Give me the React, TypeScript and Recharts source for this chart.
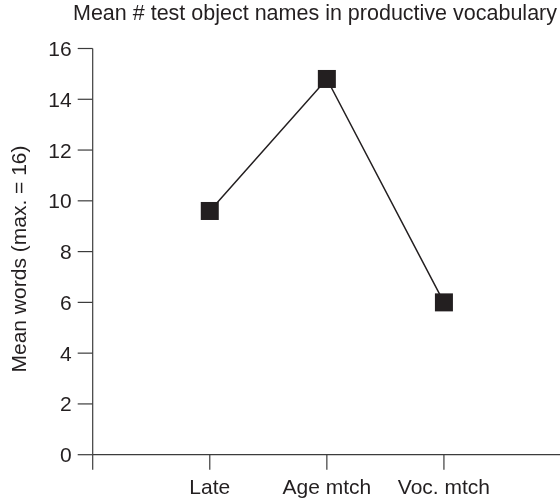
import React from 'react';
import { LineChart, Line, XAxis, YAxis } from 'recharts';

// groups along the x axis and their mean number of words
const groups = ['Late', 'Age mtch', 'Voc. mtch'];
const meanWords = [9.6, 14.8, 6.0];
const yTicks = [0, 2, 4, 6, 8, 10, 12, 14, 16];
const xTicks = [0, 1, 2, 3];

const data = groups.map((g, i) => ({ pos: i + 1, group: g, words: meanWords[i] }));

const INK = '#231f20';
const AXIS = '#3c3c3c';
const FONT = '"Liberation Sans", Arial, Helvetica, sans-serif';
const FS = 21;

const xLabel = (v: number) => (v >= 1 && v <= groups.length ? groups[v - 1] : '');

const squareDot = (props: any) => {
  const { cx, cy, index } = props;
  if (cx == null || cy == null) return <g key={`d-${index}`} />;
  return <rect key={`d-${index}`} x={cx - 9} y={cy - 9} width={18} height={18} fill={INK} />;
};

const yTitle = () => (
  <text
    transform="translate(26,259) rotate(-90)"
    textAnchor="middle"
    fontSize={FS}
    fontFamily={FONT}
    fill={INK}
  >
    Mean words (max. = 16)
  </text>
);

const App: React.FC = () => {
  return (
    <div style={{ position: 'fixed', left: 0, top: 0, width: 560, height: 500, overflow: 'hidden', fontFamily: FONT }}>
      <div
        style={{
          position: 'absolute',
          left: 73,
          top: 3,
          fontSize: 21.5,
          lineHeight: '21px',
          color: INK,
          whiteSpace: 'nowrap',
        }}
      >
        Mean # test object names in productive vocabulary
      </div>
      <LineChart
        width={562}
        height={500}
        data={data}
        margin={{ top: 48.5, right: 1, bottom: 0, left: 0 }}
      >
        <XAxis
          type="number"
          dataKey="pos"
          domain={[0, 4]}
          ticks={xTicks}
          tickFormatter={xLabel}
          allowDataOverflow
          height={45.3}
          tickSize={15}
          tickMargin={9}
          axisLine={{ stroke: AXIS, strokeWidth: 1.2 }}
          tickLine={{ stroke: AXIS, strokeWidth: 1.2 }}
          tick={{ fill: INK, fontSize: FS, fontFamily: FONT }}
          interval={0}
        />
        <YAxis
          type="number"
          domain={[0, 16]}
          ticks={yTicks}
          width={92.7}
          tickSize={15}
          tickMargin={6}
          axisLine={{ stroke: AXIS, strokeWidth: 1.2 }}
          tickLine={{ stroke: AXIS, strokeWidth: 1.2 }}
          tick={{ fill: INK, fontSize: FS, fontFamily: FONT }}
          interval={0}
          label={{ content: yTitle }}
        />
        <Line
          type="linear"
          dataKey="words"
          stroke={INK}
          strokeWidth={1.5}
          dot={squareDot}
          activeDot={false}
          isAnimationActive={false}
        />
      </LineChart>
    </div>
  );
};

export default App;
